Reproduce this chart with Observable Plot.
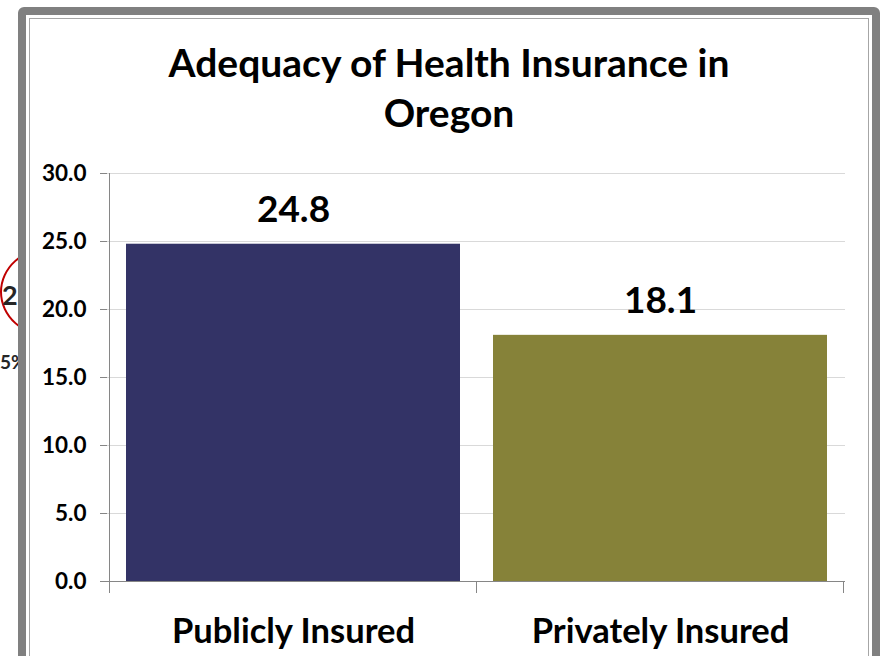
<!DOCTYPE html>
<html>
<head>
<meta charset="utf-8">
<script src="https://cdn.jsdelivr.net/npm/d3@7"></script>
<script src="https://cdn.jsdelivr.net/npm/@observablehq/plot@0.6"></script>
<style>
  html, body { margin: 0; padding: 0; width: 882px; height: 656px; overflow: hidden; background: #ffffff; font-family: Lato, "Open Sans", sans-serif; }
  #stage { position: absolute; left: 0; top: 0; width: 882px; height: 656px; overflow: hidden; }
  .bg-text { position: absolute; font-weight: bold; color: #262626; line-height: 1; }
  #ellipse { position: absolute; left: 0px; top: 247px; width: 100px; height: 90px; border: 2px solid #c00000; border-radius: 50%; box-sizing: border-box; }
  #frame { position: absolute; left: 18px; top: 7px; width: 862px; height: 700px; border: 8px solid #808080; border-radius: 6px; box-sizing: border-box; background: #ffffff; }
  #inner { position: absolute; left: 3px; top: 3px; right: 3px; bottom: 3px; border: 1px solid #a6a6a6; }
  #title { position: absolute; left: 0; top: 37px; width: 898px; text-align: center; font-weight: bold; font-size: 39px; line-height: 50px; color: #000; }
  #chart { position: absolute; left: 0; top: 150px; }
</style>
</head>
<body>
<div id="stage">
  <div id="ellipse"></div>
  <div class="bg-text" style="left:2px; top:281px; font-size:27px;">2</div>
  <div class="bg-text" style="left:0px; top:352px; font-size:19px;">5%</div>
  <div id="frame"><div id="inner"></div></div>
  <div id="title">Adequacy of Health Insurance in<br>Oregon</div>
  <div id="chart"></div>
</div>
<script>
const categories = ["Publicly Insured", "Privately Insured"];
const values = [24.8, 18.1];
const barColors = ["#333366", "#868239"];
const yTicks = [0, 5, 10, 15, 20, 25, 30];

const data = categories.map((c, i) => ({category: c, value: values[i], color: barColors[i]}));

const chart = Plot.plot({
  width: 882,
  height: 506,
  marginLeft: 107,
  marginRight: 37,
  marginTop: 23,
  marginBottom: 75,
  style: {background: "transparent", fontFamily: "Lato, 'Open Sans', sans-serif", color: "#000"},
  x: {domain: categories, paddingInner: 0.09, paddingOuter: 0.049, label: null},
  y: {domain: [0, 30], label: null},
  marks: [
    Plot.gridY(yTicks, {stroke: "#d9d9d9", strokeOpacity: 1}),
    Plot.barY(data, {x: "category", y: "value", fill: "color"}),
    Plot.ruleY([0], {stroke: "#868686"}),
    Plot.axisY({ticks: yTicks, tickFormat: d => d.toFixed(1), tickSize: 7, tickPadding: 14,
      stroke: "#868686", fontSize: 22.5, fontWeight: "bold", label: null, color: "#000"}),
    Plot.axisX({tickSize: 0, tickPadding: 37, fontSize: 34.5, fontWeight: "bold", label: null}),
    Plot.text(data, {x: "category", y: "value", text: d => d.value.toFixed(1), dy: -22,
      lineAnchor: "bottom", fontSize: 37, fontWeight: "bold", fill: "#000"})
  ]
});

document.getElementById("chart").appendChild(chart);

// Excel-style axis line and category separators, from Plot's own scales
const xs = chart.scale("x");
const ys = chart.scale("y");
const svg = d3.select(chart);
const y0 = ys.apply(0), yTop = ys.apply(30);
const g = svg.append("g").attr("stroke", "#868686").attr("shape-rendering", "crispEdges");
const bounds = [];
categories.forEach((c, i) => {
  const start = xs.apply(c) - (xs.step - xs.bandwidth) / 2;
  bounds.push(start);
  if (i === categories.length - 1) bounds.push(start + xs.step);
});
g.append("line").attr("x1", bounds[0]).attr("x2", bounds[0]).attr("y1", yTop).attr("y2", y0 + 12);
bounds.forEach(b => g.append("line").attr("x1", b).attr("x2", b).attr("y1", y0).attr("y2", y0 + 12));
</script>
</body>
</html>
